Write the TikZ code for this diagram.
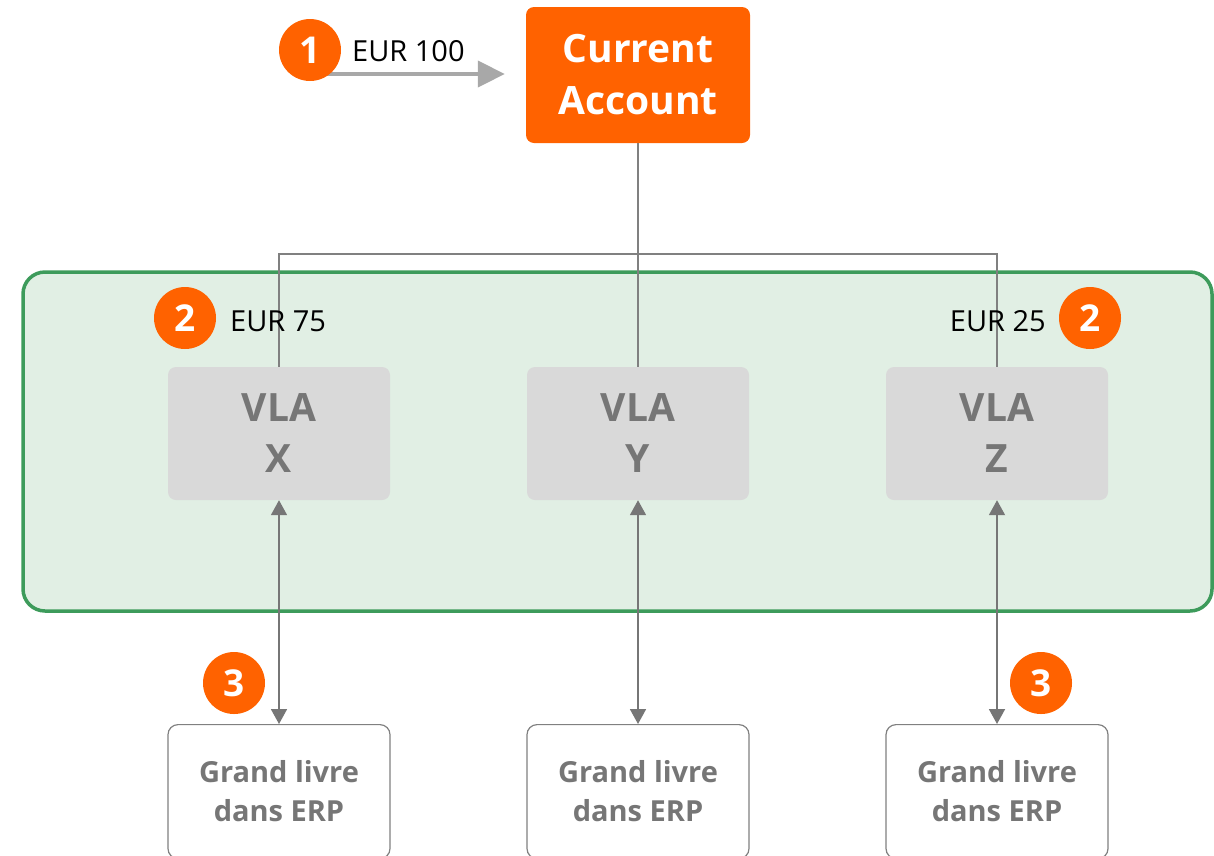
\documentclass[tikz,border=0pt]{standalone}
\usepackage{fontspec}
\setmainfont{Open Sans}
\usetikzlibrary{arrows.meta}
\definecolor{ingorange}{HTML}{FF6200}
\definecolor{greenline}{HTML}{3D9B5B}
\definecolor{greenfill}{HTML}{E1EFE4}
\definecolor{boxgray}{HTML}{D9D9D9}
\definecolor{txtgray}{HTML}{767676}
\definecolor{linegray}{HTML}{808080}
\definecolor{arrgray}{HTML}{A8A8A8}
\tikzset{
  numcirc/.style={circle, fill=ingorange, minimum size=62pt, inner sep=0pt, text=white, font=\fontsize{37}{40}\selectfont\bfseries},
  vlabox/.style={rectangle, rounded corners=8pt, fill=boxgray, minimum width=222pt, minimum height=133pt, inner sep=0pt, align=center, text=txtgray, font=\fontsize{39}{51}\selectfont\bfseries},
  erpbox/.style={rectangle, rounded corners=10pt, draw=linegray, line width=1.2pt, fill=white, minimum width=222pt, minimum height=134pt, inner sep=0pt, align=center, text=txtgray, font=\fontsize{29}{39}\selectfont\bfseries},
  amount/.style={font=\fontsize{29}{32}\selectfont, text=black, inner sep=0pt},
  conn/.style={draw=linegray, line width=1.3pt},
  dbl/.style={draw=txtgray, line width=1.8pt, {Triangle[length=15pt,width=16pt]}-{Triangle[length=15pt,width=16pt]}}
}
\begin{document}
\begin{tikzpicture}[x=1pt,y=-1pt]
\useasboundingbox (0,0) rectangle (1214,855);
\clip (0,0) rectangle (1214,855);
% green container
\draw[greenline, fill=greenfill, line width=3.5pt, rounded corners=22pt] (23,272) rectangle (1212,611);
% top account
\node[rectangle, rounded corners=8pt, fill=ingorange, minimum width=224pt, minimum height=136pt, inner sep=0pt, align=center, text=white, font=\fontsize{39}{52}\selectfont\bfseries] (ca) at (638,75) {Current\\Account};
% VLA boxes
\coordinate (j) at (638,254);
\node[vlabox] (vx) at (279,433.5) {VLA\\X};
\node[vlabox] (vy) at (638,433.5) {VLA\\Y};
\node[vlabox] (vz) at (997,433.5) {VLA\\Z};
% connectors
\draw[conn] (ca.south) -- (vy.north);
\draw[conn] (vx.north) -- (vx.north |- j) -- (vz.north |- j) -- (vz.north);
% ERP boxes
\node[erpbox, anchor=north] (ex) at (279,724) {Grand livre\\dans ERP};
\node[erpbox, anchor=north] (ey) at (638,724) {Grand livre\\dans ERP};
\node[erpbox, anchor=north] (ez) at (997,724) {Grand livre\\dans ERP};
\draw[dbl] (vx.south) -- (ex.north);
\draw[dbl] (vy.south) -- (ey.north);
\draw[dbl] (vz.south) -- (ez.north);
% step 1
\coordinate (a1) at (325,74);
\draw[arrgray, line width=4pt, -{Triangle[length=27pt,width=26pt]}, shorten >=21pt] (a1) -- (ca.west |- a1);
\node[numcirc] (n1) at (310,50) {1};
\node[amount, anchor=base west] (t1) at (352,61) {EUR 100};
% step 2
\node[numcirc] (n2a) at (185,318) {2};
\node[amount, anchor=base west] (t2a) at (230,331) {EUR 75};
\node[numcirc] (n2b) at (1090,318) {2};
\node[amount, anchor=base east] (t2b) at (1046,331) {EUR 25};
% step 3
\node[numcirc] (n3a) at (234,683) {3};
\node[numcirc] (n3b) at (1041,683) {3};
\end{tikzpicture}
\end{document}
